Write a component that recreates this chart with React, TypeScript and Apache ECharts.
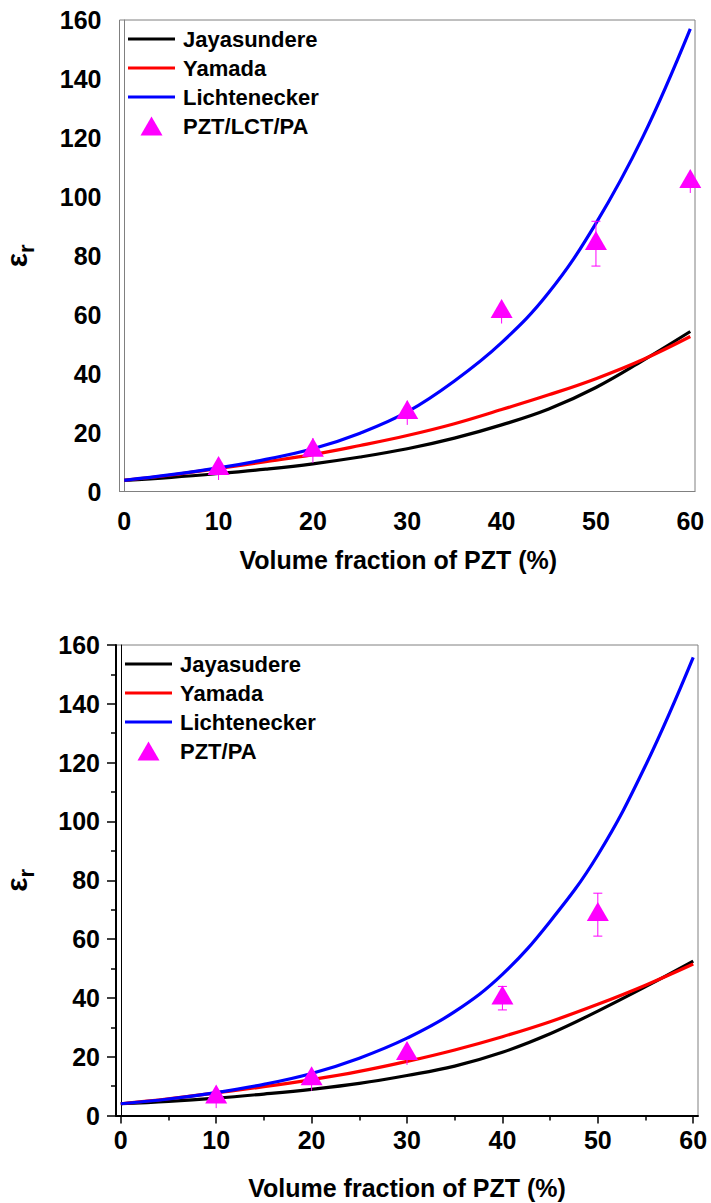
import React, { useEffect, useRef } from "react";
import * as echarts from "echarts";

// ---- data ----
const xs = [0, 5, 10, 15, 20, 25, 30, 35, 40, 45, 50, 55, 60];

// top panel: PZT/LCT/PA
const topJay = [3.8, 4.8, 6.1, 7.6, 9.4, 11.7, 14.5, 18.1, 22.6, 28, 35.3, 44.5, 54.3];
const topYam = [3.8, 5.6, 7.8, 10.1, 12.5, 15.6, 19, 23, 27.8, 32.8, 38.3, 44.8, 52.6];
const topLich = [3.8, 5.7, 8.0, 10.9, 14.5, 19.8, 27, 37.5, 50.5, 67.5, 91, 120.5, 157];
const topPtsX = [10, 20, 30, 40, 50, 60];
const topPtsY = [7.7, 13.9, 26.7, 61, 84.1, 105.1];
const topErr = [3.8, 4.2, 4.1, 4, 7.6, 3.8];
const topCaps = [false, false, false, false, true, false];

// bottom panel: PZT/PA
const botJay = [4, 4.8, 5.9, 7.3, 8.9, 10.9, 13.6, 16.8, 21.5, 27.8, 35.5, 43.8, 52.5];
const botYam = [4, 5.7, 7.7, 9.8, 12.2, 15, 18.4, 22.3, 26.8, 31.9, 37.8, 44.3, 51.5];
const botLich = [4, 5.6, 7.8, 10.6, 14.3, 19.5, 26.3, 35.3, 48, 66, 88.6, 119, 155.8];
const botPtsX = [10, 20, 30, 40, 50];
const botPtsY = [6.2, 12.4, 21, 39.9, 68.3];
const botErr = [3.7, 4, 3.8, 4, 7.3];
const botCaps = [false, false, false, true, true];

const xTickLabels = [0, 10, 20, 30, 40, 50, 60];
const xMinorTicks = [5, 15, 25, 35, 45, 55];

const FONT = "'Liberation Sans', Arial, sans-serif";
const MAGENTA = "#ff00ff";
const LINE_ICON = "path://M0 0H47V3H0Z";
const TRI_ICON = "path://M11 0L22 19H0Z";

const pair = (ys: number[]) => xs.map((x, i) => [x, ys[i]]);

function lineSeries(name: string, color: string, ys: number[], gi: number) {
  return {
    type: "line",
    name,
    xAxisIndex: gi === 0 ? 0 : 1,
    yAxisIndex: gi === 0 ? 0 : 1,
    data: pair(ys),
    smooth: 0.4,
    symbol: "none",
    showSymbol: false,
    lineStyle: { color, width: 3.2 },
    itemStyle: { color },
    z: 3,
  };
}

function errSeries(px: number[], py: number[], pe: number[], caps: boolean[], gi: number) {
  return {
    type: "custom",
    name: "err" + gi,
    xAxisIndex: gi === 0 ? 0 : 1,
    yAxisIndex: gi === 0 ? 0 : 1,
    data: px.map((x, i) => [x, py[i], pe[i], caps[i] ? 1 : 0]),
    encode: { x: 0, y: 1 },
    z: 4,
    renderItem: (params: any, api: any) => {
      const x = api.value(0);
      const y = api.value(1);
      const e = api.value(2);
      const cap = api.value(3);
      const t = api.coord([x, y + e]);
      const b = api.coord([x, y - e]);
      const hw = 4.5;
      const st = { stroke: MAGENTA, lineWidth: 1 };
      const children: any[] = [
        { type: "line", shape: { x1: t[0], y1: t[1], x2: b[0], y2: b[1] }, style: st },
      ];
      if (cap) {
        children.push(
          { type: "line", shape: { x1: t[0] - hw, y1: t[1], x2: t[0] + hw, y2: t[1] }, style: st },
          { type: "line", shape: { x1: b[0] - hw, y1: b[1], x2: b[0] + hw, y2: b[1] }, style: st }
        );
      }
      return { type: "group", children };
    },
  };
}

function scatterSeries(name: string, px: number[], py: number[], gi: number) {
  return {
    type: "scatter",
    name,
    xAxisIndex: gi === 0 ? 0 : 1,
    yAxisIndex: gi === 0 ? 0 : 1,
    data: px.map((x, i) => [x, py[i]]),
    symbol: "triangle",
    symbolSize: [22, 19],
    symbolOffset: [0, -3.2],
    itemStyle: { color: MAGENTA, opacity: 1 },
    z: 5,
  };
}

const yName = "{e|ε}{r|r}";
const yNameStyle = {
  rich: {
    e: { fontSize: 30, fontWeight: "bold", fontFamily: FONT, color: "#000", verticalAlign: "bottom", padding: [0, 0, 6, 0] },
    r: { fontSize: 22, fontWeight: "bold", fontFamily: FONT, color: "#000", verticalAlign: "bottom" },
  },
};

function legendData(names: string[]) {
  return names.map((n, i) => ({ name: n, icon: i === 3 ? TRI_ICON : LINE_ICON }));
}

export default function App() {
  const ref = useRef<HTMLDivElement>(null);
  useEffect(() => {
    if (!ref.current) return;
    const chart = echarts.init(ref.current, undefined, { renderer: "svg" });
    const labelStyle = { fontSize: 25, fontWeight: "bold", fontFamily: FONT, color: "#000" };
    const legendText = { fontSize: 22, fontWeight: "bold", fontFamily: FONT, color: "#000", lineHeight: 22, padding: [0, 0, 0, 3] };
    const option: any = {
      animation: false,
      backgroundColor: "#fff",
      grid: [
        { left: 119.5, top: 20, width: 575.5, height: 471.5, show: true, borderColor: "#808080", borderWidth: 1, containLabel: false, outerBoundsMode: "none" },
        { left: 116, top: 645, width: 582, height: 470.5, show: true, borderColor: "#808080", borderWidth: 1, containLabel: false, outerBoundsMode: "none" },
      ],
      legend: [
        {
          orient: "vertical", left: 128, top: 28, padding: 0,
          itemWidth: 47, itemHeight: 19, itemGap: 7,
          data: legendData(["Jayasundere", "Yamada", "Lichtenecker", "PZT/LCT/PA"]),
          textStyle: legendText,
          selectedMode: false,
        },
        {
          orient: "vertical", left: 125, top: 653, padding: 0,
          itemWidth: 47, itemHeight: 19, itemGap: 7,
          data: legendData(["Jayasudere", "Yamada", "Lichtenecker", "PZT/PA"]),
          textStyle: legendText,
          selectedMode: false,
        },
      ],
      xAxis: [
        {
          gridIndex: 0, type: "value", min: -0.5, max: 60.5,
          axisLine: { show: true, lineStyle: { color: "#808080", width: 1 } },
          axisTick: { show: false },
          splitLine: { show: false },
          axisLabel: { ...labelStyle, margin: 17, customValues: xTickLabels, showMinLabel: true, showMaxLabel: true },
          name: "Volume fraction of PZT (%)", nameLocation: "middle", nameGap: 56, nameMoveOverlap: false,
          nameTextStyle: { fontSize: 25, fontWeight: "bold", fontFamily: FONT, color: "#000", padding: [0, 18, 0, 0] },
        },
        {
          gridIndex: 1, type: "value", min: -0.5, max: 60.5,
          axisLine: { show: true, onZero: false, lineStyle: { color: "#000", width: 2 } },
          axisTick: { show: true, customValues: xTickLabels, length: 8, lineStyle: { color: "#000", width: 1.5 } },
          splitLine: { show: false },
          axisLabel: { ...labelStyle, margin: 12, customValues: xTickLabels, showMinLabel: true, showMaxLabel: true },
          name: "Volume fraction of PZT (%)", nameLocation: "middle", nameGap: 60, nameMoveOverlap: false,
          nameTextStyle: { fontSize: 25, fontWeight: "bold", fontFamily: FONT, color: "#000" },
        },
        {
          gridIndex: 1, type: "value", min: -0.5, max: 60.5, position: "bottom",
          axisLine: { show: false },
          axisTick: { show: true, customValues: xMinorTicks, length: 5, lineStyle: { color: "#000", width: 1.5 } },
          splitLine: { show: false },
          axisLabel: { show: false },
        },
      ],
      yAxis: [
        {
          gridIndex: 0, type: "value", min: 0, max: 160, interval: 20,
          axisLine: { show: true, lineStyle: { color: "#808080", width: 1 } },
          axisTick: { show: false },
          splitLine: { show: false },
          axisLabel: { ...labelStyle, margin: 18 },
          name: yName, nameLocation: "middle", nameRotate: 90, nameGap: 82, nameMoveOverlap: false,
          nameTextStyle: yNameStyle,
        },
        {
          gridIndex: 1, type: "value", min: 0, max: 160, interval: 20,
          axisLine: { show: true, onZero: false, lineStyle: { color: "#000", width: 2 } },
          axisTick: { show: true, length: 9, lineStyle: { color: "#000", width: 1.5 } },
          minorTick: { show: true, splitNumber: 2, length: 5, lineStyle: { color: "#000", width: 1.5 } },
          splitLine: { show: false },
          axisLabel: { ...labelStyle, margin: 16 },
          name: yName, nameLocation: "middle", nameRotate: 90, nameGap: 79, nameMoveOverlap: false,
          nameTextStyle: yNameStyle,
        },
        {
          gridIndex: 1, type: "value", min: 0, max: 160, position: "right",
          axisLine: { show: true, lineStyle: { color: "#000", width: 1 } },
          axisTick: { show: false },
          splitLine: { show: false },
          axisLabel: { show: false },
        },
      ],
      series: [
        lineSeries("Jayasundere", "#000000", topJay, 0),
        lineSeries("Yamada", "#ff0000", topYam, 0),
        lineSeries("Lichtenecker", "#0000ff", topLich, 0),
        errSeries(topPtsX, topPtsY, topErr, topCaps, 0),
        scatterSeries("PZT/LCT/PA", topPtsX, topPtsY, 0),
        lineSeries("Jayasudere", "#000000", botJay, 1),
        lineSeries("Yamada", "#ff0000", botYam, 1),
        lineSeries("Lichtenecker", "#0000ff", botLich, 1),
        errSeries(botPtsX, botPtsY, botErr, botCaps, 1),
        scatterSeries("PZT/PA", botPtsX, botPtsY, 1),
      ],
    };
    chart.setOption(option);
    return () => chart.dispose();
  }, []);
  return (
    <div
      ref={ref}
      style={{ position: "absolute", left: 0, top: 0, width: 711, height: 1203, background: "#fff" }}
    />
  );
}
